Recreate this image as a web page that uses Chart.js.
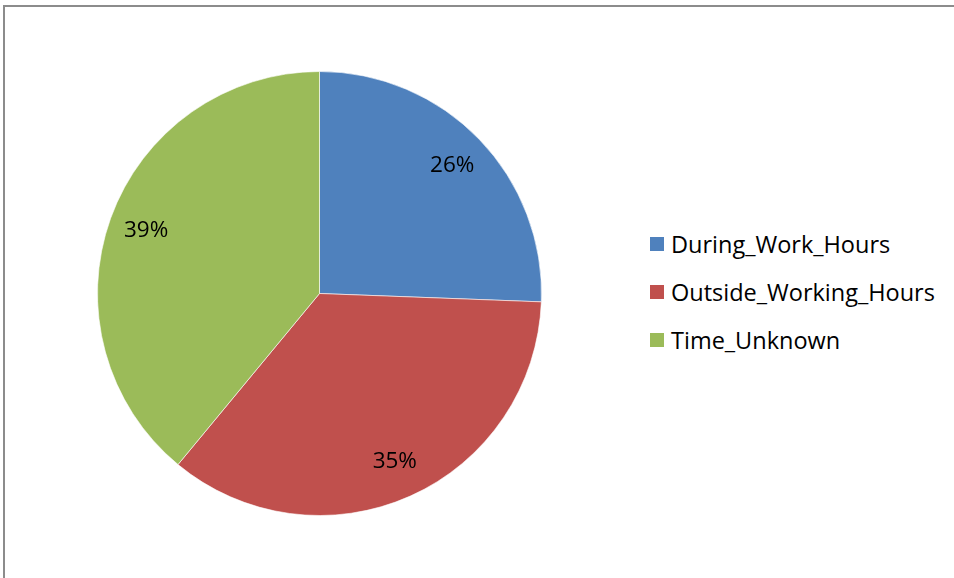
<!DOCTYPE html>
<html lang="en">
<head>
    <meta charset="UTF-8">
    <title>Time of Incidents</title>
    <script src="https://cdn.jsdelivr.net/npm/chart.js"></script>
    <style>
        body {
            margin: 0;
            width: 954px;
            height: 578px;
            overflow: hidden;
            background: #fff;
            font-family: "Open Sans", Lato, sans-serif;
        }
        .frame {
            position: absolute;
            left: 3px;
            top: 5px;
            width: 1000px;
            height: 700px;
            border-left: 2px solid #8c8c8c;
            border-top: 2px solid #8c8c8c;
        }
        .pie-box {
            position: absolute;
            left: 97px;
            top: 71px;
            width: 445px;
            height: 445px;
        }
        #legend {
            position: absolute;
            left: 650px;
            top: 228px;
            margin: 0;
            padding: 0;
            list-style: none;
            font-size: 23.5px;
            line-height: 32px;
            color: #000;
        }
        #legend li {
            height: 48px;
            display: flex;
            align-items: flex-start;
        }
        #legend span.box {
            display: inline-block;
            width: 14px;
            height: 14px;
            margin: 9px 7px 0 0;
        }
    </style>
</head>
<body>
    <div class="frame"></div>
    <div class="pie-box"><canvas id="pieChart"></canvas></div>
    <ul id="legend"></ul>

    <script>
        // datos (porcentajes)
        const categories = ['During_Work_Hours', 'Outside_Working_Hours', 'Time_Unknown'];
        const shares = [25.6, 35.4, 39.0];
        const sliceColors = ['#4F81BD', '#C0504D', '#9BBB59'];

        // etiquetas de porcentaje dentro de cada porcion
        const pctLabels = {
            id: 'pctLabels',
            afterDatasetsDraw(chart) {
                const ctx = chart.ctx;
                const meta = chart.getDatasetMeta(0);
                ctx.save();
                ctx.font = '22.5px "Open Sans", Lato, sans-serif';
                ctx.fillStyle = '#000';
                ctx.textAlign = 'center';
                ctx.textBaseline = 'middle';
                meta.data.forEach((arc, i) => {
                    const p = arc.getProps(['x', 'y', 'startAngle', 'endAngle', 'outerRadius'], true);
                    const mid = (p.startAngle + p.endAngle) / 2;
                    const r = p.outerRadius * 0.83;
                    ctx.fillText(Math.round(shares[i]) + '%', p.x + Math.cos(mid) * r, p.y + Math.sin(mid) * r);
                });
                ctx.restore();
            }
        };

        const pieChart = new Chart(document.getElementById('pieChart'), {
            type: 'pie',
            data: {
                labels: categories,
                datasets: [{
                    data: shares,
                    backgroundColor: sliceColors,
                    borderColor: 'rgba(255,255,255,0.6)',
                    borderWidth: 1
                }]
            },
            options: {
                responsive: true,
                maintainAspectRatio: false,
                animation: false,
                layout: { padding: 0 },
                plugins: {
                    legend: { display: false },
                    tooltip: { enabled: false }
                }
            },
            plugins: [pctLabels]
        });

        // leyenda en html
        const legend = document.getElementById('legend');
        categories.forEach((name, i) => {
            const li = document.createElement('li');
            li.innerHTML = '<span class="box" style="background:' + sliceColors[i] + '"></span>' + name;
            legend.appendChild(li);
        });
    </script>
</body>
</html>
